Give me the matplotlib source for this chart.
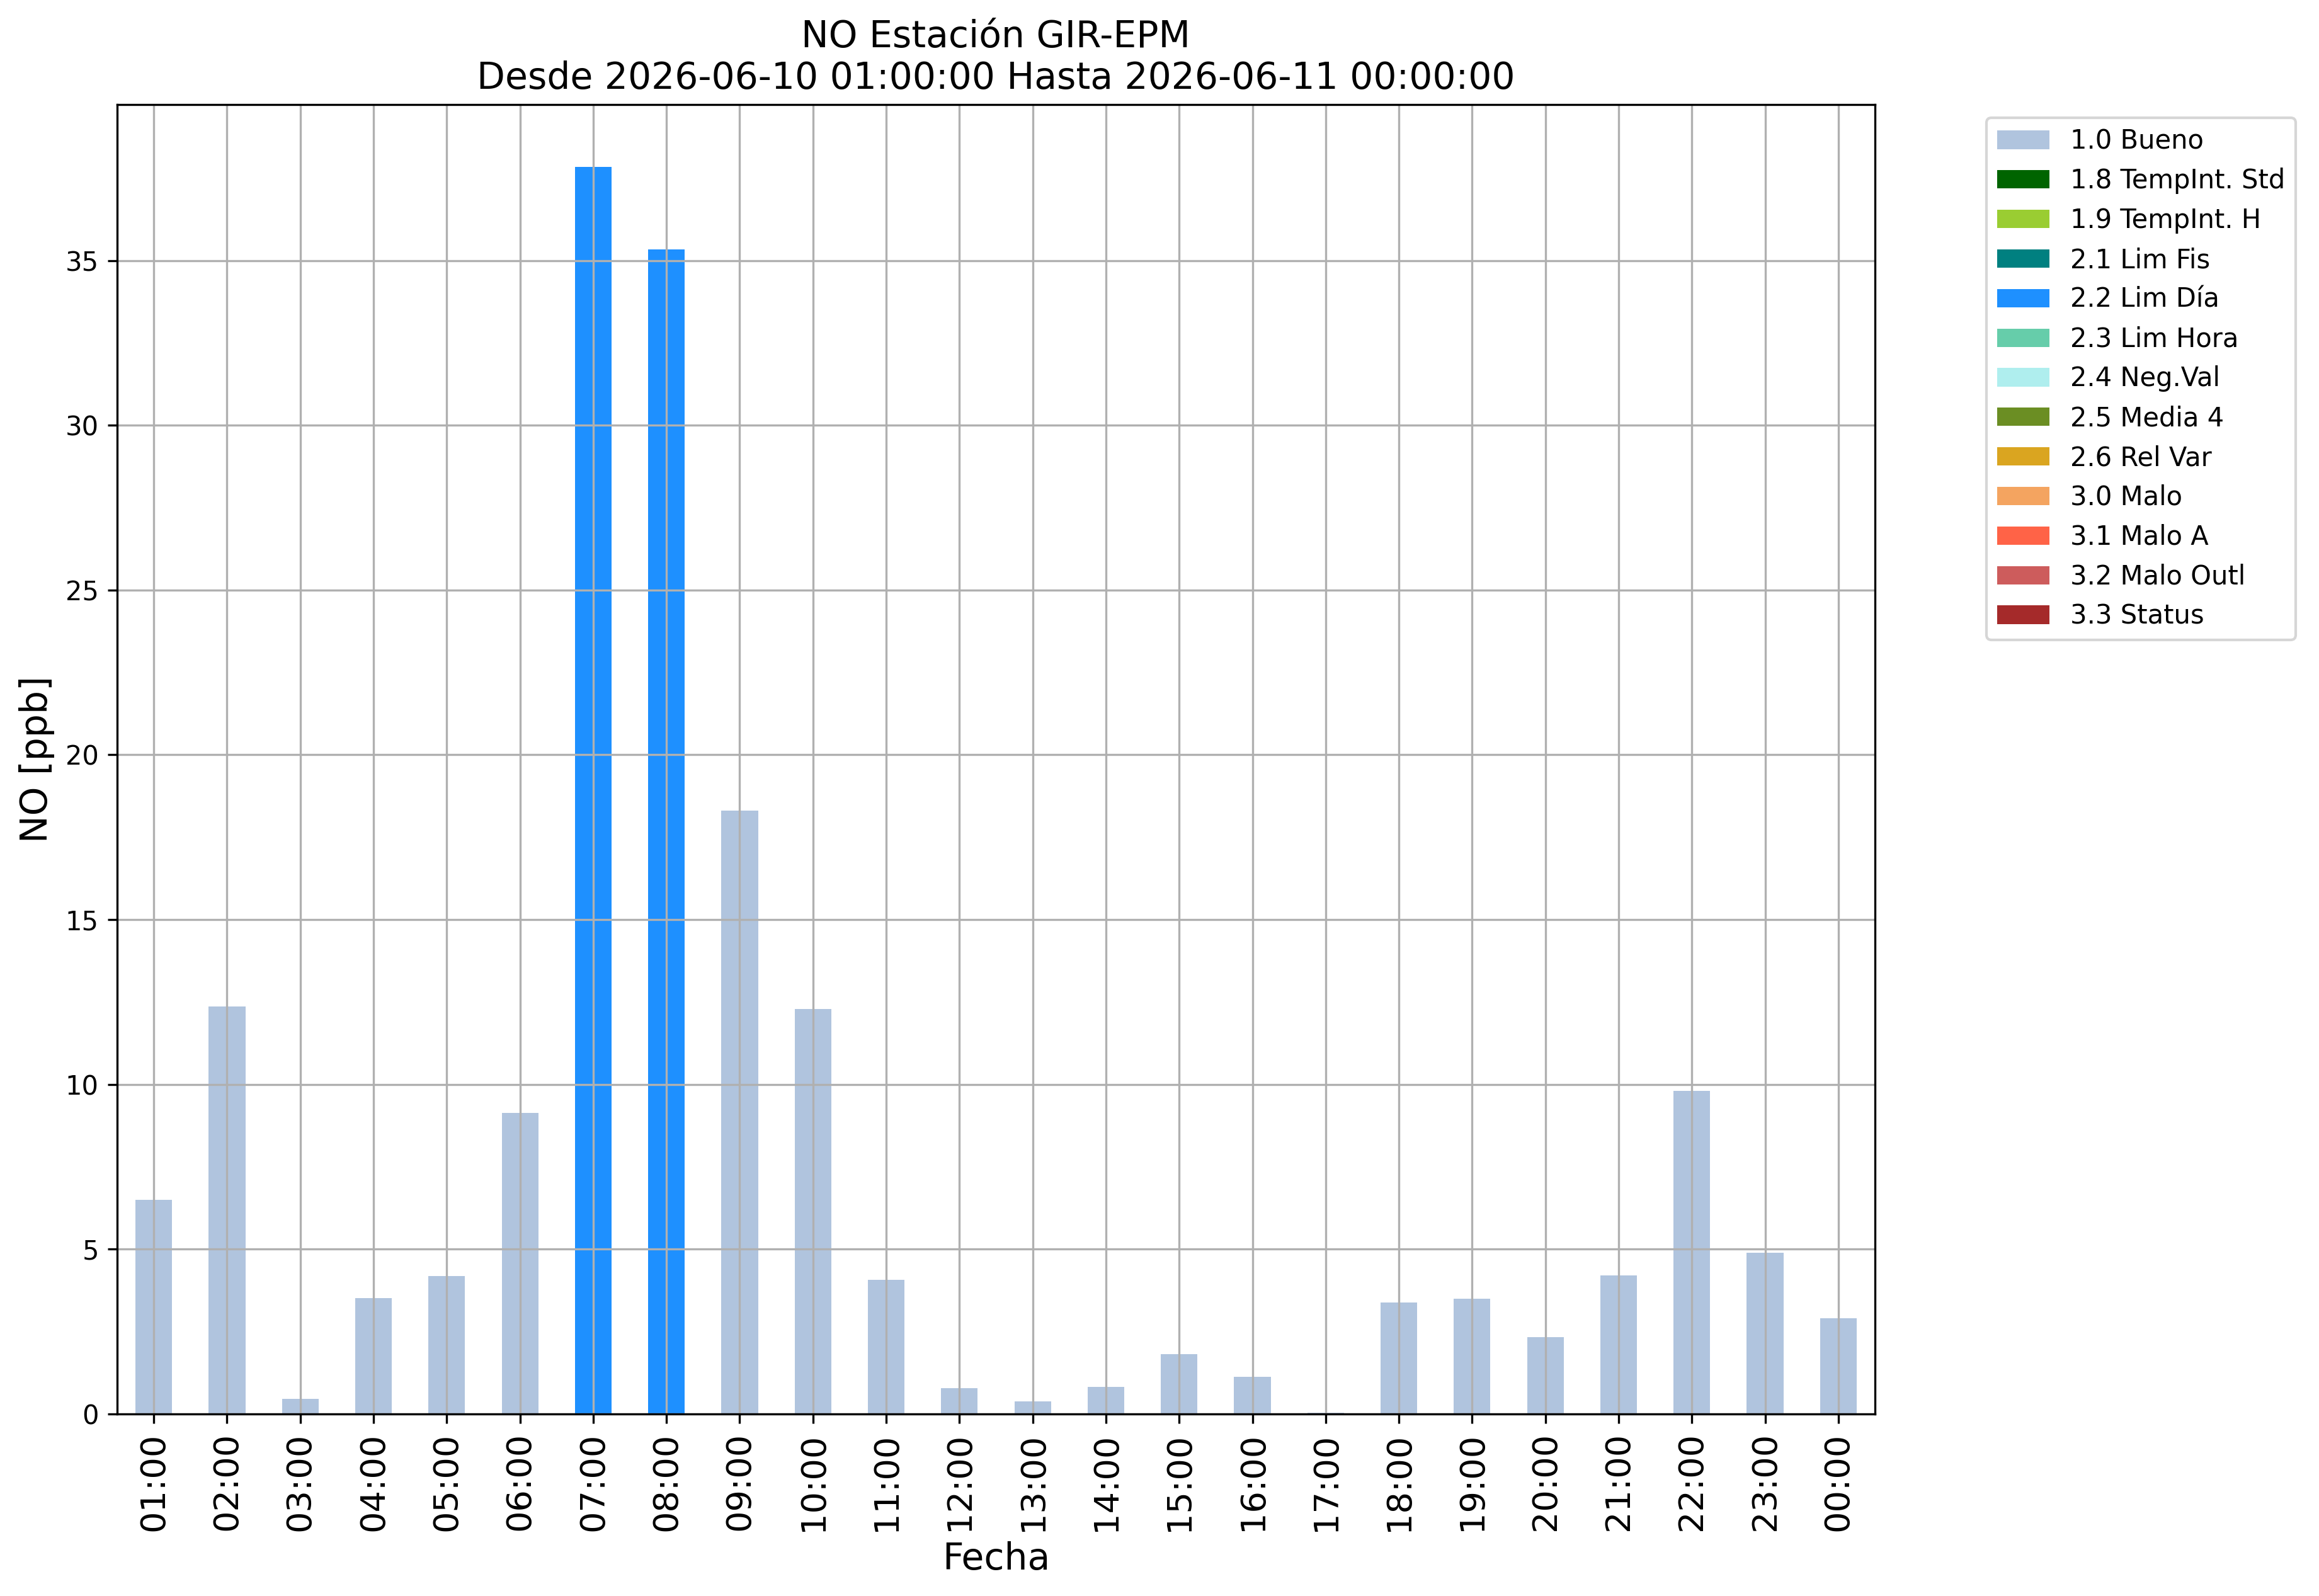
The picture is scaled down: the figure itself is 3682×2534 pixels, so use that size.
import matplotlib
matplotlib.use('Agg')
import matplotlib.pyplot as plt
import numpy as np

horas = ['01:00', '02:00', '03:00', '04:00', '05:00', '06:00', '07:00', '08:00',
         '09:00', '10:00', '11:00', '12:00', '13:00', '14:00', '15:00', '16:00',
         '17:00', '18:00', '19:00', '20:00', '21:00', '22:00', '23:00', '00:00']
no_ppb = [6.50, 12.37, 0.46, 3.51, 4.18, 9.14, 37.84, 35.34,
          18.30, 12.29, 4.08, 0.78, 0.38, 0.82, 1.81, 1.13,
          0.04, 3.38, 3.49, 2.33, 4.20, 9.81, 4.89, 2.90]
flags = ['1.0 Bueno'] * 6 + ['2.2 Lim Día'] * 2 + ['1.0 Bueno'] * 16

categorias = ['1.0 Bueno', '1.8 TempInt. Std', '1.9 TempInt. H', '2.1 Lim Fis',
              '2.2 Lim Día', '2.3 Lim Hora', '2.4 Neg.Val', '2.5 Media 4',
              '2.6 Rel Var', '3.0 Malo', '3.1 Malo A', '3.2 Malo Outl', '3.3 Status']
colores = ['lightsteelblue', 'darkgreen', 'yellowgreen', 'teal',
           'dodgerblue', 'mediumaquamarine', 'paleturquoise', 'olivedrab',
           'goldenrod', 'sandybrown', 'tomato', 'indianred', 'brown']

fig = plt.figure(figsize=(3682 / 300, 2534 / 300), dpi=300)
ax = fig.add_axes([186 / 3682, 289 / 2534, 2791 / 3682, 2079 / 2534])

x = np.arange(len(horas))
valores = np.array(no_ppb)
fl = np.array(flags)
bottom = np.zeros(len(horas))
for cat, col in zip(categorias, colores):
    h = np.where(fl == cat, valores, 0.0)
    ax.bar(x, h, width=0.5, bottom=bottom, color=col, label=cat)
    bottom += h

ax.set_xlim(-0.5, len(horas) - 0.5)
ax.set_ylim(0, valores.max() * 1.05)
ax.set_xticks(x)
ax.set_xticklabels(horas, rotation=90, fontsize=13)
ax.grid(True)
ax.set_xlabel('Fecha', fontsize=14)
ax.set_ylabel('NO [ppb]', fontsize=14)
ax.set_title('NO Estación GIR-EPM\nDesde 2026-06-10 01:00:00 Hasta 2026-06-11 00:00:00',
             fontsize=14)
ax.legend(bbox_to_anchor=(1.056, 1), loc='upper left', fontsize=10)

fig.savefig('out.png', dpi=300)
